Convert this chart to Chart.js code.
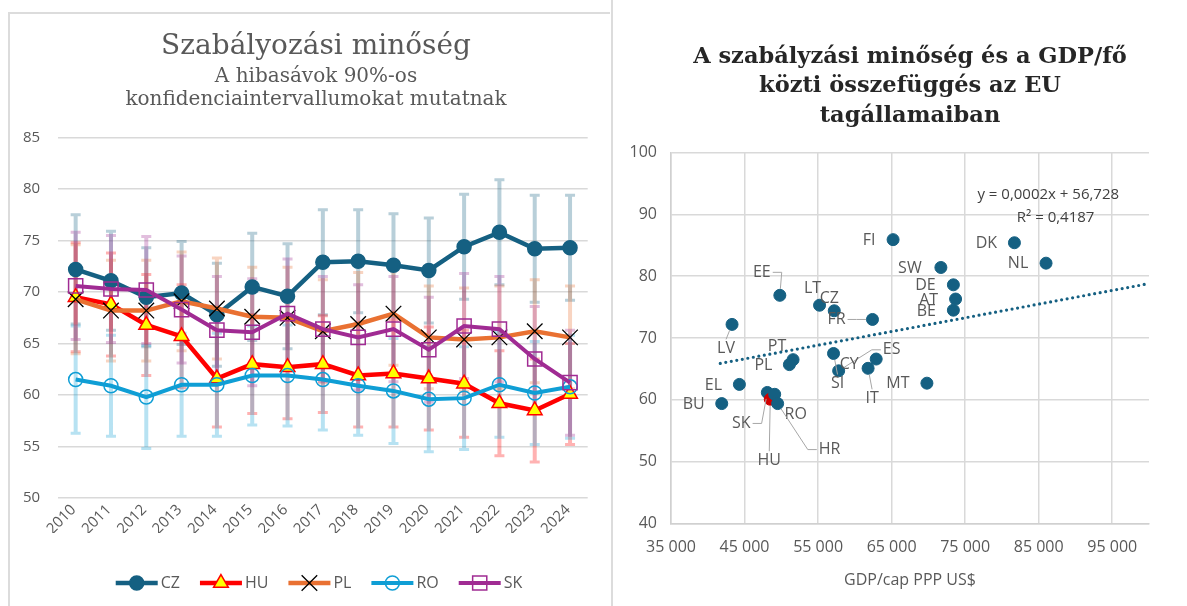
<!DOCTYPE html>
<html>
<head>
<meta charset="utf-8">
<script src="https://cdn.jsdelivr.net/npm/chart.js@4"></script>
<style>
  html, body { margin: 0; padding: 0; background: #fff; width: 1187px; height: 606px; overflow: hidden; }
  .box { position: absolute; }
  #leftFrame { left: 8px; top: 12px; width: 600px; height: 600px; border-top: 2px solid #dcdcdc; border-left: 2px solid #dcdcdc; }
  #rightFrame { left: 611px; top: 0; width: 2px; height: 606px; background: #dcdcdc; }
  #leftBox { left: 8px; top: 12px; width: 592px; height: 594px; }
  #rightBox { left: 612px; top: 0; width: 575px; height: 606px; }
</style>
</head>
<body>
<div class="box" id="leftBox"><canvas id="trendChart"></canvas></div>
<div class="box" id="rightBox"><canvas id="scatterChart"></canvas></div>
<div class="box" id="leftFrame"></div>
<div class="box" id="rightFrame"></div>
<script>
// Left chart: regulatory quality by year (values + 90% CI half-widths)
const years = ['2010', '2011', '2012', '2013', '2014', '2015', '2016', '2017', '2018', '2019', '2020', '2021', '2022', '2023', '2024'];

const czValues = [72.2, 71.1, 69.5, 69.9, 67.8, 70.5, 69.6, 72.9, 73.0, 72.6, 72.1, 74.4, 75.8, 74.2, 74.3];
const huValues = [69.5, 68.8, 66.8, 65.7, 61.6, 63.0, 62.7, 63.0, 61.9, 62.1, 61.6, 61.1, 59.2, 58.5, 60.1];
const plValues = [69.3, 68.2, 68.2, 69.1, 68.4, 67.6, 67.5, 66.2, 66.9, 67.9, 65.6, 65.4, 65.6, 66.2, 65.6];
const roValues = [61.5, 60.9, 59.8, 61.0, 61.0, 61.9, 61.9, 61.5, 60.9, 60.4, 59.6, 59.7, 61.0, 60.2, 60.8];
const skValues = [70.6, 70.3, 70.2, 68.3, 66.3, 66.1, 67.9, 66.4, 65.6, 66.4, 64.4, 66.7, 66.4, 63.5, 61.2];

const czErr = [5.3, 4.8, 4.8, 5.0, 5.0, 5.2, 5.1, 5.1, 5.0, 5.0, 5.1, 5.1, 5.1, 5.2, 5.1];
const huErr = [5.3, 5.0, 4.9, 5.0, 4.7, 4.8, 5.0, 4.7, 5.0, 5.2, 5.0, 5.2, 5.1, 5.0, 4.9];
const plErr = [5.3, 4.9, 4.9, 4.8, 4.9, 4.8, 4.9, 5.0, 5.0, 5.0, 5.0, 5.0, 5.0, 5.0, 5.0];
const roErr = [5.2, 4.9, 5.0, 5.0, 5.0, 4.8, 4.9, 4.9, 4.8, 5.1, 5.1, 5.0, 5.1, 5.0, 5.0];
const skErr = [5.2, 5.2, 5.2, 5.2, 5.2, 5.2, 5.3, 5.1, 5.1, 5.1, 5.1, 5.1, 5.1, 5.1, 5.1];

// Right chart: GDP per capita vs regulatory quality
const countries = ['FI', 'DK', 'NL', 'SW', 'DE', 'AT', 'BE', 'MT', 'EE', 'LT', 'CZ', 'FR', 'LV', 'PT', 'PL',
  'EL', 'BU', 'SK', 'HU', 'RO', 'HR', 'SI', 'ES', 'CY', 'IT'];
const gdpPerCap = [65200, 81700, 86000, 71700, 73400, 73700, 73400, 69800, 49800, 55200, 57200, 62400, 43300, 51600, 51100,
  44300, 41900, 48100, 48500, 49100, 49500, 57100, 57800, 62900, 61800];
const regQuality = [85.9, 85.4, 82.1, 81.4, 78.6, 76.3, 74.5, 62.7, 76.9, 75.3, 74.4, 73.0, 72.2, 66.5, 65.7,
  62.5, 59.4, 61.2, 60.1, 60.9, 59.4, 67.5, 64.7, 66.6, 65.1];

const trendX = [41700, 100000];
const trendY = [65.9, 78.8];
const xTickValues = [35000, 45000, 55000, 65000, 75000, 85000, 95000];

// label placement relative to each point (px), third item = draw leader line
const labelOffsets = {
  FI: [-24, 1], DK: [-28, 1], NL: [-28, 0], SW: [-31, 1], DE: [-28, 1], AT: [-27, 1], BE: [-27, 1], MT: [-29, 0],
  EE: [-18, -23, true], LT: [-7, -17], CZ: [-5, -12], FR: [-36, 0, true], LV: [-6, 24, true], PT: [-16, -13],
  PL: [-26, 1], EL: [-26, 1], BU: [-28, 1], SK: [-26, 31, true], HU: [-1, 61, true], RO: [21, 20],
  HR: [52, 46, true], SI: [4, 30, true], ES: [53, -21, true], CY: [-27, 5], IT: [4, 30, true]
};

const SANS = '"Open Sans", "Noto Sans", sans-serif';
const SERIF = '"DejaVu Serif", serif';
const textGray = '#595959';
const gridGray = '#d9d9d9';

// error bars drawn under the lines
const errorBars = {
  id: 'errorBars',
  beforeDatasetsDraw(chart) {
    const { ctx, scales: { x, y } } = chart;
    ctx.save();
    chart.data.datasets.forEach(ds => {
      ctx.fillStyle = ds.errColor;
      ctx.beginPath();
      ds.data.forEach((v, j) => {
        const px = x.getPixelForValue(j);
        const top = y.getPixelForValue(v + ds.err[j]);
        const bot = y.getPixelForValue(v - ds.err[j]);
        ctx.rect(px - 2, top, 4, bot - top);
        ctx.rect(px - 5, top - 1.5, 10, 3);
        ctx.rect(px - 5, bot - 1.5, 10, 3);
      });
      ctx.fill();
    });
    ctx.restore();
  }
};

// Excel style legend: line segment with marker in the middle
const lineLegend = {
  id: 'lineLegend',
  afterDraw(chart) {
    const ctx = chart.ctx;
    const y = chart.height - 23;
    const lineLen = 42, gap = 3, itemGap = 20;
    ctx.save();
    ctx.font = '16px ' + SANS;
    const items = chart.data.datasets.map(ds => ({ ds, w: lineLen + gap + ctx.measureText(ds.label).width }));
    const total = items.reduce((s, it) => s + it.w, 0) + itemGap * (items.length - 1);
    let x = (chart.width - total) / 2 + 15;
    items.forEach(({ ds, w }) => {
      ctx.strokeStyle = ds.borderColor;
      ctx.lineWidth = ds.borderWidth;
      ctx.beginPath();
      ctx.moveTo(x, y);
      ctx.lineTo(x + lineLen, y);
      ctx.stroke();
      ctx.fillStyle = ds.pointBackgroundColor;
      ctx.strokeStyle = ds.pointBorderColor;
      ctx.lineWidth = ds.pointBorderWidth;
      Chart.helpers.drawPoint(ctx, { pointStyle: ds.pointStyle, radius: ds.pointRadius, borderWidth: ds.pointBorderWidth, rotation: 0 }, x + lineLen / 2, y);
      ctx.fillStyle = textGray;
      ctx.textAlign = 'left';
      ctx.textBaseline = 'middle';
      ctx.fillText(ds.label, x + lineLen + gap, y);
      x += w + itemGap;
    });
    ctx.restore();
  }
};

function series(label, data, err, color, errColor, marker) {
  return Object.assign({
    label, data, err, errColor,
    borderColor: color,
    borderWidth: 4.5,
    tension: 0,
    pointBorderWidth: 1.5,
  }, marker);
}

const noSidePadding = axis => { axis.paddingLeft = 0; axis.paddingRight = 0; };

new Chart(document.getElementById('trendChart'), {
  type: 'line',
  data: {
    labels: years,
    datasets: [
      series('CZ', czValues, czErr, '#156082', 'rgba(21, 96, 130, 0.3)',
        { pointStyle: 'circle', pointRadius: 7, pointBackgroundColor: '#156082', pointBorderColor: '#156082', order: 5 }),
      series('HU', huValues, huErr, '#ff0000', 'rgba(255, 0, 0, 0.3)',
        { pointStyle: 'triangle', pointRadius: 8.5, pointBackgroundColor: '#ffff00', pointBorderColor: '#ff0000', order: 4 }),
      series('PL', plValues, plErr, '#e97132', 'rgba(233, 113, 50, 0.3)',
        { pointStyle: 'crossRot', pointRadius: 11, pointBackgroundColor: '#000', pointBorderColor: '#000', pointBorderWidth: 1.3, order: 3 }),
      series('RO', roValues, roErr, '#0f9ed5', 'rgba(15, 158, 213, 0.3)',
        { pointStyle: 'circle', pointRadius: 7, pointBackgroundColor: 'rgba(0,0,0,0)', pointBorderColor: '#0f9ed5', borderWidth: 4, order: 2 }),
      series('SK', skValues, skErr, '#a02b93', 'rgba(160, 43, 147, 0.3)',
        { pointStyle: 'rect', pointRadius: 10, pointBackgroundColor: 'rgba(0,0,0,0)', pointBorderColor: '#a02b93', borderWidth: 4, order: 1 }),
    ],
  },
  options: {
    responsive: true,
    maintainAspectRatio: false,
    animation: false,
    layout: { padding: { left: 34, right: 10, top: 0, bottom: 73 } },
    plugins: {
      legend: { display: false },
      tooltip: { enabled: false },
      title: {
        display: true,
        text: 'Szabályozási minőség',
        color: textGray,
        font: { family: SERIF, size: 28, weight: 'normal', lineHeight: 1.2 },
        padding: { top: 18, bottom: 0 },
      },
      subtitle: {
        display: true,
        text: ['A hibasávok 90%-os', 'konfidenciaintervallumokat mutatnak'],
        color: textGray,
        font: { family: SERIF, size: 20, lineHeight: 1.15 },
        padding: { top: 2, bottom: 26 },
      },
    },
    scales: {
      x: {
        offset: true,
        afterFit: noSidePadding,
        grid: { display: false },
        border: { display: false },
        ticks: { color: textGray, font: { family: SANS, size: 15 }, minRotation: 45, maxRotation: 45, padding: -5, labelOffset: -2 },
      },
      y: {
        min: 50,
        max: 85,
        afterFit: axis => { axis.width = 16; },
        grid: { color: gridGray, lineWidth: 1.5, drawTicks: false },
        border: { display: false },
        ticks: { stepSize: 5, color: textGray, font: { family: SANS, size: 15 }, mirror: true, crossAlign: 'far', padding: -35 },
      },
    },
  },
  plugins: [errorBars, lineLegend],
});

// country labels with leader lines
const pointLabels = {
  id: 'pointLabels',
  afterDatasetsDraw(chart) {
    const ctx = chart.ctx;
    const meta = chart.getDatasetMeta(1);
    ctx.save();
    ctx.font = '16px ' + SANS;
    ctx.textAlign = 'center';
    ctx.textBaseline = 'middle';
    meta.data.forEach((pt, i) => {
      const name = countries[i];
      const [dx, dy, leader] = labelOffsets[name];
      const lx = pt.x + dx, ly = pt.y + dy;
      if (leader) {
        const hw = ctx.measureText(name).width / 2 + 2, hh = 9;
        let sx, sy, mx, my;
        if (Math.abs(dx) > hw + 6) {
          sx = lx - Math.sign(dx) * hw; sy = ly;
          mx = sx - Math.sign(dx) * 9; my = ly;
        } else {
          sx = lx; sy = ly - Math.sign(dy) * hh;
          mx = sx; my = sy;
        }
        const vx = pt.x - mx, vy = pt.y - my;
        const len = Math.hypot(vx, vy) || 1;
        const r = 6.5;
        ctx.strokeStyle = '#a6a6a6';
        ctx.lineWidth = 1;
        ctx.beginPath();
        ctx.moveTo(sx, sy);
        ctx.lineTo(mx, my);
        ctx.lineTo(pt.x - vx / len * r, pt.y - vy / len * r);
        ctx.stroke();
      }
      ctx.fillStyle = textGray;
      ctx.fillText(name, lx, ly);
    });
    ctx.restore();
  }
};

const trendLabel = {
  id: 'trendLabel',
  afterDatasetsDraw(chart) {
    const { ctx, scales: { x, y } } = chart;
    ctx.save();
    ctx.font = '15px ' + SANS;
    ctx.fillStyle = '#404040';
    ctx.textAlign = 'center';
    ctx.textBaseline = 'middle';
    ctx.fillText('y = 0,0002x + 56,728', x.getPixelForValue(86300), y.getPixelForValue(93.1));
    ctx.fillText('R² = 0,4187', x.getPixelForValue(87300), y.getPixelForValue(89.4));
    ctx.restore();
  }
};

new Chart(document.getElementById('scatterChart'), {
  type: 'scatter',
  data: {
    datasets: [
      {
        type: 'line',
        label: 'trend',
        data: trendX.map((x, i) => ({ x, y: trendY[i] })),
        borderColor: '#156082',
        borderWidth: 3.2,
        borderDash: [0, 5.6],
        borderCapStyle: 'round',
        pointRadius: 0,
        fill: false,
      },
      {
        label: 'EU',
        data: gdpPerCap.map((x, i) => ({ x, y: regQuality[i] })),
        backgroundColor: countries.map(c => c === 'HU' ? '#d00000' : '#156082'),
        borderColor: countries.map(c => c === 'HU' ? '#d00000' : '#156082'),
        pointRadius: 6,
      },
    ],
  },
  options: {
    responsive: true,
    maintainAspectRatio: false,
    animation: false,
    layout: { padding: { left: 0, right: 38, top: 0, bottom: 15 } },
    plugins: {
      legend: { display: false },
      tooltip: { enabled: false },
      title: {
        display: true,
        fullSize: false,
        text: ['A szabályzási minőség és a GDP/fő', 'közti összefüggés az EU', 'tagállamaiban'],
        color: '#262626',
        font: { family: SERIF, size: 22.5, weight: 'bold', lineHeight: 1.31 },
        padding: { top: 42, bottom: 22 },
      },
    },
    scales: {
      x: {
        type: 'linear',
        min: 35000,
        max: 100000,
        afterBuildTicks: axis => { axis.ticks = xTickValues.map(v => ({ value: v })); },
        afterFit: noSidePadding,
        grid: { color: gridGray, lineWidth: 1.5, drawTicks: false },
        border: { color: '#d0d0d0', width: 1.5 },
        ticks: {
          color: textGray, font: { family: SANS, size: 16 }, padding: 14, maxRotation: 0,
          callback: v => String(v).replace(/\B(?=(\d{3})+(?!\d))/g, ' '),
        },
        title: {
          display: true, text: 'GDP/cap PPP US$', color: textGray,
          font: { family: SANS, size: 16 }, padding: { top: 0, bottom: 1 },
        },
      },
      y: {
        min: 40,
        max: 100,
        afterFit: axis => { axis.width = 59; },
        grid: { color: gridGray, lineWidth: 1.5, drawTicks: false },
        border: { color: '#d0d0d0', width: 1.5 },
        ticks: { stepSize: 10, color: textGray, font: { family: SANS, size: 16 }, padding: 14 },
      },
    },
  },
  plugins: [pointLabels, trendLabel],
});
</script>
</body>
</html>
